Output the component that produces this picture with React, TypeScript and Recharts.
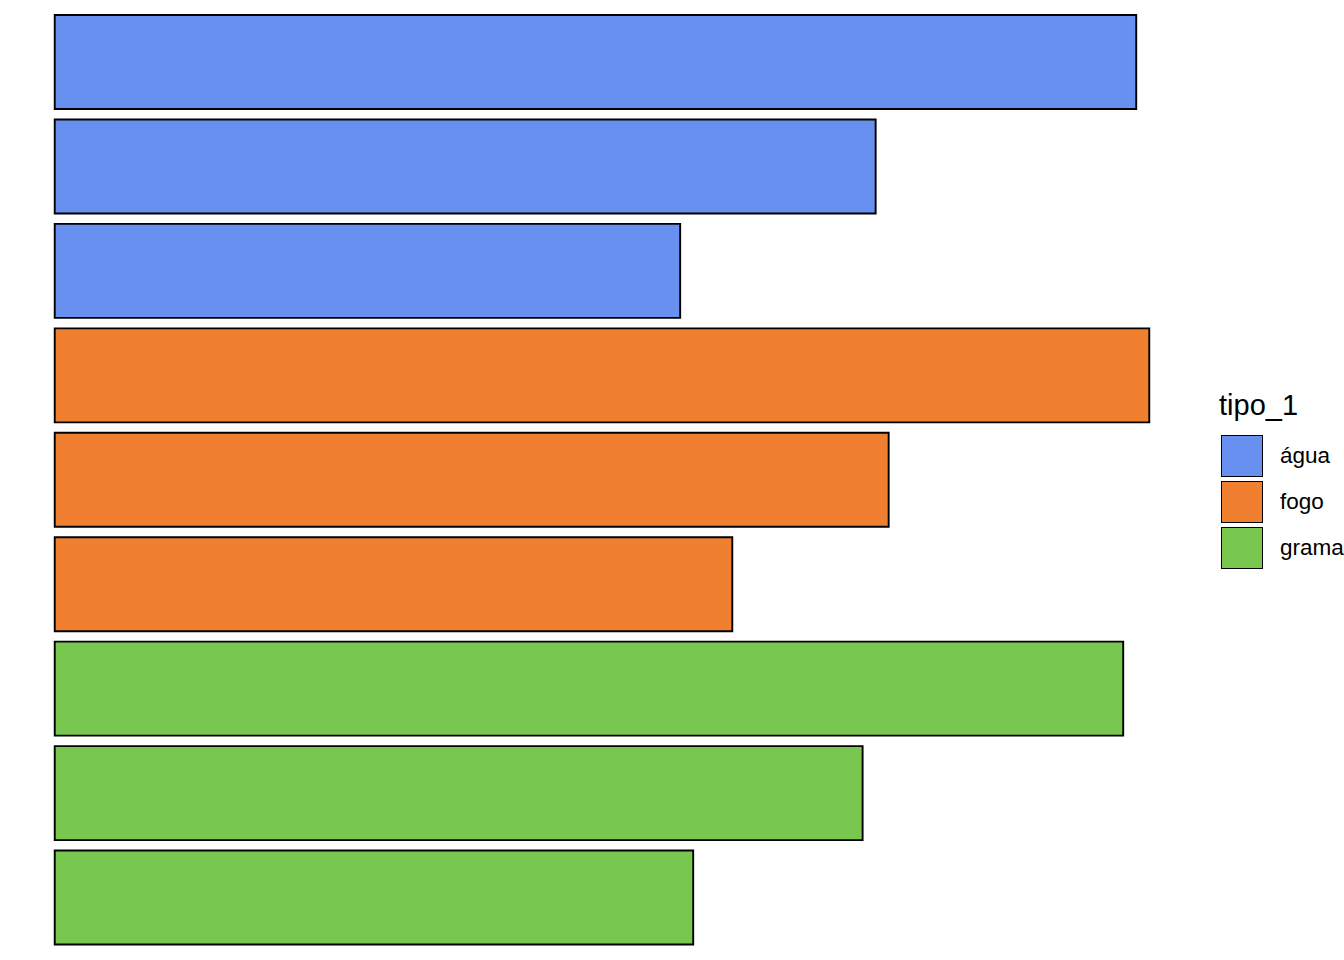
import { BarChart, Bar, XAxis, YAxis, Cell } from "recharts";

// Pokémon (gen 1 starters) and their attack, grouped by primary type
const names = [
  "Blastoise", "Wartortle", "Squirtle",
  "Charizard", "Charmeleon", "Charmander",
  "Venusaur", "Ivysaur", "Bulbasaur",
];
const ataque = [83, 63, 48, 84, 64, 52, 82, 62, 49];
const tipo1 = ["água", "água", "água", "fogo", "fogo", "fogo", "grama", "grama", "grama"];

const tipos = ["água", "fogo", "grama"];
const tipoCores = ["#6890F0", "#F08030", "#78C850"];

const data = names.map((nome, i) => ({ nome, ataque: ataque[i], tipo_1: tipo1[i] }));

const maxVal = Math.max(...ataque);
const pad = maxVal * 0.05;

const corDe = (t: string) => tipoCores[tipos.indexOf(t)];

function LegendaTipo() {
  return (
    <div
      style={{
        position: "absolute",
        left: 1219,
        top: 386,
        fontFamily: "'Liberation Sans', Arial, sans-serif",
        color: "#000",
      }}
    >
      <div style={{ fontSize: 29, lineHeight: "38px", marginBottom: 9 }}>tipo_1</div>
      {tipos.map((t, i) => (
        <div key={t} style={{ display: "flex", alignItems: "center", height: 46 }}>
          <div
            style={{
              width: 40,
              height: 40,
              background: tipoCores[i],
              border: "1.8px solid #000",
              marginLeft: 2,
            }}
          />
          <span style={{ fontSize: 22.5, marginLeft: 17, whiteSpace: "nowrap" }}>{t}</span>
        </div>
      ))}
    </div>
  );
}

export default function App() {
  return (
    <div
      style={{
        position: "absolute",
        left: 0,
        top: 0,
        width: 1344,
        height: 960,
        background: "#fff",
        overflow: "hidden",
      }}
    >
      <BarChart
        width={1344}
        height={960}
        data={data}
        layout="vertical"
        margin={{ top: 0, right: 140, bottom: 0, left: 0 }}
      >
        <XAxis type="number" hide domain={[-pad, maxVal + pad]} allowDataOverflow />
        <YAxis type="category" dataKey="nome" hide padding={{ top: 10, bottom: 10 }} />
        <Bar dataKey="ataque" barSize={94} stroke="#000" strokeWidth={1.9} isAnimationActive={false}>
          {data.map((d) => (
            <Cell key={d.nome} fill={corDe(d.tipo_1)} />
          ))}
        </Bar>
      </BarChart>
      <LegendaTipo />
    </div>
  );
}
